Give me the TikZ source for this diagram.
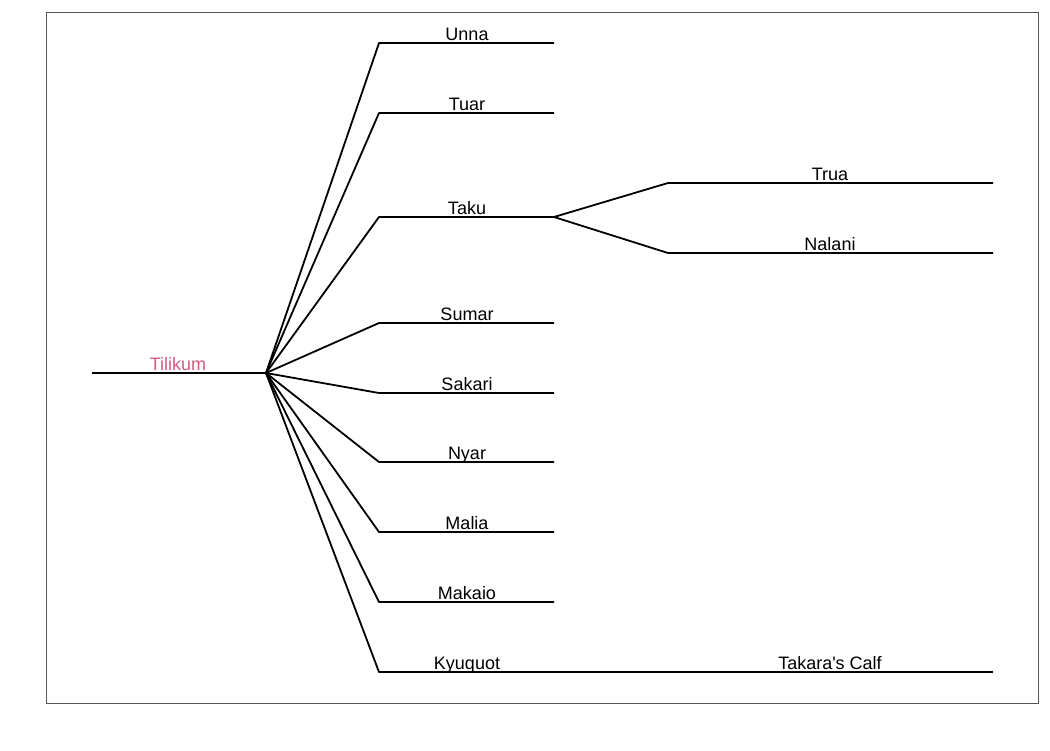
\documentclass[tikz,border=0pt]{standalone}
\usepackage{fontspec}
\setmainfont{Liberation Sans}[Ligatures=TeXOff]
\definecolor{rootpink}{RGB}{214,90,128}
\definecolor{framegray}{RGB}{85,85,85}
\begin{document}
\begin{tikzpicture}[x=1pt,y=-1pt,
  edge/.style={line width=1.8pt,black,line join=round},
  lbl/.style={anchor=base,inner sep=0pt,font=\fontsize{18}{20}\selectfont},
  rootlbl/.style={lbl,text=rootpink}]
\useasboundingbox (0,0) rectangle (1050,750);
\draw[framegray,line width=1pt] (46,12) rectangle (1038,703);
% root
\coordinate (r0) at (92,373);
\coordinate (r) at (266,373);
\draw[edge] (r0) -- (r);
\node[rootlbl] (tilikum) at (178,370) {Tilikum};
% children
\foreach \nm/\yy in {Unna/43,Tuar/113,Taku/217,Sumar/323,Sakari/393,Nyar/462,Malia/532,Makaio/602,Kyuquot/672}{
  \coordinate (\nm-s) at (379,\yy);
  \coordinate (\nm-e) at (554,\yy);
  \draw[edge] (r) -- (\nm-s) -- (\nm-e);
  \node[lbl] (\nm-l) at (467,\yy-3) {\nm};
}
% Taku's children
\coordinate (trua-s) at (668,183);
\coordinate (trua-e) at (993,183);
\coordinate (nalani-s) at (668,253);
\coordinate (nalani-e) at (993,253);
\draw[edge] (Taku-e) -- (trua-s) -- (trua-e);
\draw[edge] (Taku-e) -- (nalani-s) -- (nalani-e);
\node[lbl] (trua-l) at (830,180) {Trua};
\node[lbl] (nalani-l) at (830,250) {Nalani};
% Kyuquot's child
\coordinate (calf-s) at (668,672);
\coordinate (calf-e) at (993,672);
\draw[edge] (Kyuquot-e) -- (calf-s) -- (calf-e);
\node[lbl] (calf-l) at (830,669) {Takara's Calf};
\end{tikzpicture}
\end{document}
